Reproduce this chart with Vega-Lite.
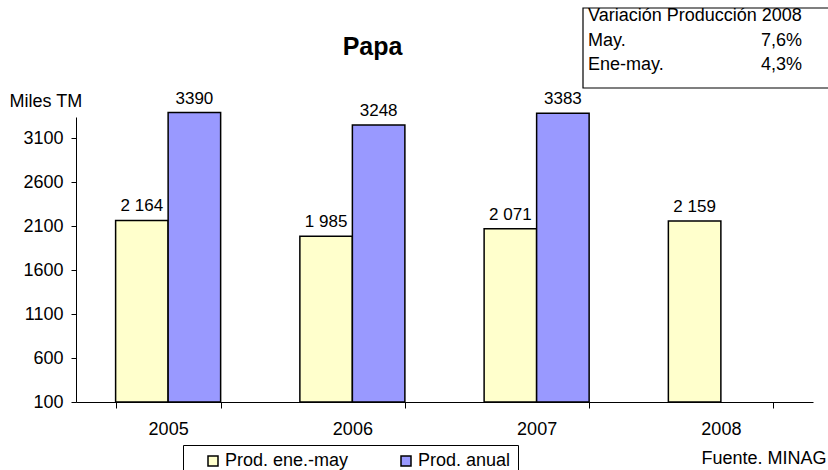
{
  "$schema": "https://vega.github.io/schema/vega-lite/v6.json",
  "width": 737,
  "height": 285,
  "autosize": {"type": "none"},
  "padding": {"left": 76, "top": 117, "right": 15, "bottom": 68},
  "background": "white",
  "config": {"font": "Liberation Sans", "view": {"stroke": null}},
  "title": {"text": "Papa", "fontSize": 25, "fontWeight": "bold", "font": "Liberation Sans", "color": "black", "anchor": "middle", "frame": "group", "dx": -72, "offset": 0, "dy": 73, "baseline": "alphabetic"},
  "data": {"values": [
    {"anio": "2005", "serie": "Prod. ene.-may", "valor": 2164, "etiqueta": "2 164"},
    {"anio": "2005", "serie": "Prod. anual", "valor": 3390, "etiqueta": "3390"},
    {"anio": "2006", "serie": "Prod. ene.-may", "valor": 1985, "etiqueta": "1 985"},
    {"anio": "2006", "serie": "Prod. anual", "valor": 3248, "etiqueta": "3248"},
    {"anio": "2007", "serie": "Prod. ene.-may", "valor": 2071, "etiqueta": "2 071"},
    {"anio": "2007", "serie": "Prod. anual", "valor": 3383, "etiqueta": "3383"},
    {"anio": "2008", "serie": "Prod. ene.-may", "valor": 2159, "etiqueta": "2 159"}
  ]},
  "layer": [
    {
      "mark": {"type": "bar", "stroke": "black", "strokeWidth": 1.5},
      "encoding": {
        "x": {"field": "anio", "type": "nominal", "scale": {"paddingInner": 0.43, "paddingOuter": 0.215},
          "axis": {"title": "Fuente. MINAG", "titleX": 750, "titleY": 61, "titleAlign": "right", "titleBaseline": "alphabetic", "titleFontSize": 18, "titleFontWeight": "normal", "titleColor": "black", "labelAngle": 0, "labelFontSize": 18, "labelColor": "black", "labelPadding": 12, "tickSize": 6, "tickBand": "extent", "domainColor": "black", "tickColor": "black", "grid": false}},
        "xOffset": {"field": "serie", "type": "nominal", "scale": {"domain": ["Prod. ene.-may", "Prod. anual"]}},
        "y": {"field": "valor", "type": "quantitative", "scale": {"domain": [100, 3340], "zero": false, "nice": false},
          "axis": {"values": [100, 600, 1100, 1600, 2100, 2600, 3100], "format": "d", "title": "Miles TM", "titleAngle": 0, "titleAlign": "left", "titleBaseline": "alphabetic", "titleX": -67, "titleY": -11, "titleFontSize": 18, "titleFontWeight": "normal", "titleColor": "black", "labelFontSize": 18, "labelColor": "black", "labelPadding": 8, "tickSize": 5, "grid": false, "domainColor": "black", "tickColor": "black"}},
        "y2": {"datum": 100},
        "color": {"field": "serie", "type": "nominal", "scale": {"domain": ["Prod. ene.-may", "Prod. anual"], "range": ["#FFFFCC", "#9999FF"]},
          "legend": {"orient": "none", "legendX": 107, "legendY": 328, "direction": "horizontal", "title": null, "strokeColor": "black", "fillColor": "white", "padding": 7, "symbolType": "square", "symbolSize": 100, "symbolStrokeColor": "black", "symbolStrokeWidth": 1.5, "symbolOpacity": 1, "labelFontSize": 18, "labelColor": "black", "labelFont": "Liberation Sans", "columnPadding": 34, "symbolOffset": 14, "labelOffset": 3}}
      }
    },
    {
      "mark": {"type": "text", "baseline": "alphabetic", "dy": -9, "fontSize": 17, "color": "black"},
      "encoding": {
        "x": {"field": "anio", "type": "nominal"},
        "xOffset": {"field": "serie", "type": "nominal"},
        "y": {"field": "valor", "type": "quantitative"},
        "text": {"field": "etiqueta"}
      }
    },
    {
      "data": {"values": [{}]},
      "mark": {"type": "rect", "fill": "white", "stroke": "black", "strokeWidth": 1.2},
      "encoding": {"x": {"value": 507}, "x2": {"value": 760}, "y": {"value": -109}, "y2": {"value": -29}}
    },
    {
      "data": {"values": [{}]},
      "mark": {"type": "text", "align": "left", "baseline": "alphabetic", "fontSize": 18, "lineHeight": 24.5, "color": "black"},
      "encoding": {"x": {"value": 512}, "y": {"value": -96}, "text": {"value": ["Variación Producción 2008", "May.", "Ene-may."]}}
    },
    {
      "data": {"values": [{}]},
      "mark": {"type": "text", "align": "right", "baseline": "alphabetic", "fontSize": 18, "lineHeight": 24.5, "color": "black"},
      "encoding": {"x": {"value": 726}, "y": {"value": -71.5}, "text": {"value": ["7,6%", "4,3%"]}}
    }
  ]
}
